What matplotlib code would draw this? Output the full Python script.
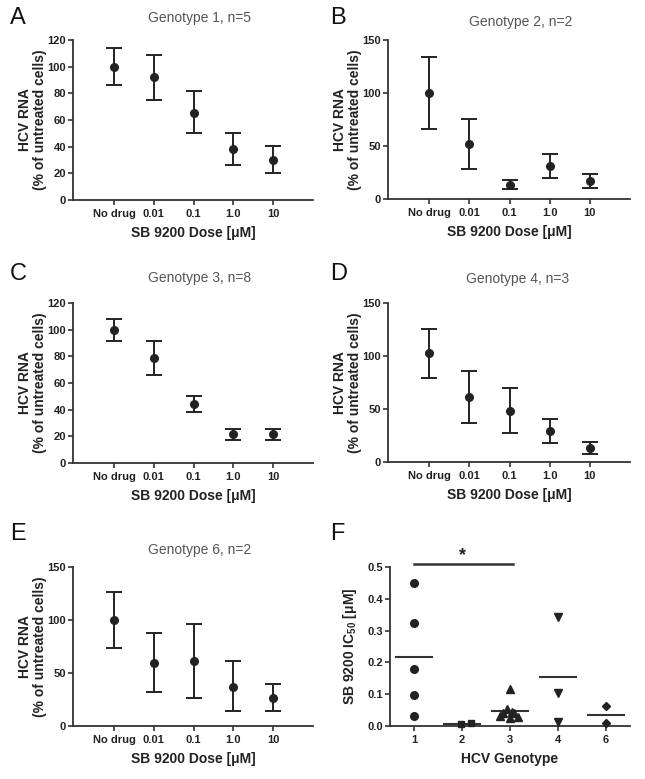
import numpy as np
import matplotlib
matplotlib.use("Agg")
import matplotlib.pyplot as plt

plt.rcParams['font.family'] = ['Liberation Sans', 'DejaVu Sans']
plt.rcParams['mathtext.fontset'] = 'custom'
plt.rcParams['mathtext.rm'] = 'Liberation Sans'
plt.rcParams['mathtext.bf'] = 'Liberation Sans:bold'

# dose-response panels A-E
doses = ["No drug", "0.01", "0.1", "1.0", "10"]

titles = ["Genotype 1, n=5", "Genotype 2, n=2", "Genotype 3, n=8",
          "Genotype 4, n=3", "Genotype 6, n=2"]
letters = ["A", "B", "C", "D", "E"]

mean_a = [100, 92, 65.5, 38, 30]
low_a = [86, 75, 50, 26, 20]
high_a = [114.3, 109, 81.5, 50, 40.5]

mean_b = [100, 52, 13.5, 30.7, 16.8]
low_b = [66.5, 28.6, 9.7, 19.5, 10.3]
high_b = [133.7, 75.3, 17.5, 42, 23.5]

mean_c = [99.5, 78.8, 44.5, 21.5, 21.5]
low_c = [91.6, 66, 38, 17.5, 17.3]
high_c = [107.8, 91.2, 50.5, 25.8, 25.8]

mean_d = [102.5, 61, 48, 29.2, 13.2]
low_d = [79.5, 36.5, 27.5, 18, 7.8]
high_d = [125.8, 86, 69.5, 40.6, 18.6]

mean_e = [100, 59.8, 61, 37, 26.8]
low_e = [74, 32, 26, 13.8, 13.8]
high_e = [126.5, 87.8, 96, 61, 40]

ymax = [120, 150, 120, 150, 150]
ystep = [20, 50, 20, 50, 50]

# panel F: IC50 per genotype
genotypes = ["1", "2", "3", "4", "6"]
ic50_g1 = [0.45, 0.325, 0.18, 0.099, 0.031]
ic50_g2 = [0.006, 0.008]
ic50_g3 = [0.115, 0.052, 0.045, 0.040, 0.040, 0.031, 0.024, 0.027]
ic50_g4 = [0.344, 0.105, 0.013]
ic50_g6 = [0.0625, 0.008]

# horizontal scatter of the points inside each column
jit_g1 = [0, 0, 0, 0, 0]
jit_g2 = [-0.02, 0.19]
jit_g3 = [0.0, -0.06, 0.04, 0.09, -0.14, -0.21, -0.01, 0.17]
jit_g4 = [0, 0, 0]
jit_g6 = [0, 0]

dark = "#222222"
axcol = "#333333"

fig = plt.figure(figsize=(6.45, 7.79), dpi=100)
W, H = 645.0, 779.0


def px_axes(left, top, right, bottom):
    return fig.add_axes([left / W, 1 - bottom / H, (right - left) / W,
                         (bottom - top) / H])


def style_axes(ax):
    for s in ["top", "right"]:
        ax.spines[s].set_visible(False)
    for s in ["left", "bottom"]:
        ax.spines[s].set_linewidth(1.3)
        ax.spines[s].set_color(axcol)
    ax.tick_params(direction="out", length=3.5, width=1.2, color=axcol,
                   labelsize=8, pad=1.5, labelcolor=dark)
    ax.tick_params(axis="x", pad=3)
    for lab in ax.get_xticklabels() + ax.get_yticklabels():
        lab.set_fontweight("bold")


boxes = [(73, 40, 313, 200), (388, 40, 630, 199),
         (73, 303, 313, 463), (388, 303, 630, 462),
         (73, 567, 313, 726)]
title_pos = [(200, 18), (521, 22), (200, 278), (518, 279), (200, 550)]
letter_pos = [(10, 18), (330, 18), (10, 274), (330, 274), (10, 534)]

means = [mean_a, mean_b, mean_c, mean_d, mean_e]
lows = [low_a, low_b, low_c, low_d, low_e]
highs = [high_a, high_b, high_c, high_d, high_e]

for i in range(5):
    ax = px_axes(*boxes[i])
    x = np.arange(len(doses))
    m = np.array(means[i])
    err = [m - np.array(lows[i]), np.array(highs[i]) - m]
    ax.errorbar(x, m, yerr=err, fmt="o", color=dark, ms=5.5, capsize=6,
                elinewidth=1.4, capthick=1.4)
    ax.set_xlim(-1.03, 5.0)
    ax.set_ylim(0, ymax[i])
    ax.set_yticks(np.arange(0, ymax[i] + 1, ystep[i]))
    ax.set_xticks(x)
    ax.set_xticklabels(doses)
    style_axes(ax)
    ax.set_xlabel("SB 9200 Dose [\u03bcM]", fontsize=10, fontweight="bold",
                  color=dark, labelpad=5)
    ax.set_ylabel("HCV RNA\n(% of untreated cells)", fontsize=10,
                  fontweight="bold", color=dark, linespacing=1.1)
    ax.yaxis.set_label_coords(-0.108, 0.5)
    fig.text(title_pos[i][0] / W, 1 - title_pos[i][1] / H, titles[i],
             ha="center", va="center", fontsize=10, color="#555555")
    fig.text(letter_pos[i][0] / W, 1 - letter_pos[i][1] / H, letters[i],
             ha="left", va="center", fontsize=17, color="#111111")

# panel F
ax = px_axes(390, 567, 630, 726)
groups = [ic50_g1, ic50_g2, ic50_g3, ic50_g4, ic50_g6]
jits = [jit_g1, jit_g2, jit_g3, jit_g4, jit_g6]
marks = ["o", "s", "^", "v", "D"]
sizes = [5.5, 5, 5.5, 5.5, 4.5]
for k, vals in enumerate(groups):
    xs = k + np.array(jits[k])
    ax.plot(xs, vals, linestyle="none", marker=marks[k], ms=sizes[k],
            color=dark, clip_on=False, zorder=3)
    mu = np.mean(vals)
    ax.plot([k - 0.37, k + 0.37], [mu, mu], color=axcol, lw=1.5,
            zorder=2)
ax.plot([0, 2.06], [0.51, 0.51], color=axcol, lw=1.8, clip_on=False)
ax.text(1.02, 0.535, "*", ha="center", va="center", fontsize=13,
        fontweight="bold", color=dark)
ax.set_xlim(-0.5, 4.5)
ax.set_ylim(0, 0.5)
ax.set_yticks(np.arange(0, 0.51, 0.1))
ax.set_yticklabels(["%.1f" % v for v in np.arange(0, 0.51, 0.1)])
ax.set_xticks(np.arange(len(genotypes)))
ax.set_xticklabels(genotypes)
style_axes(ax)
ax.set_xlabel("HCV Genotype", fontsize=10, fontweight="bold", color=dark,
              labelpad=5)
ax.set_ylabel("SB 9200 IC$_{\\mathbf{50}}$ [\u03bcM]",
              fontsize=10, fontweight="bold", color=dark)
ax.yaxis.set_label_coords(-0.13, 0.5)
fig.text(330 / W, 1 - 534 / H, "F", ha="left", va="center", fontsize=17,
         color="#111111")

fig.savefig("out.png", dpi=100)
